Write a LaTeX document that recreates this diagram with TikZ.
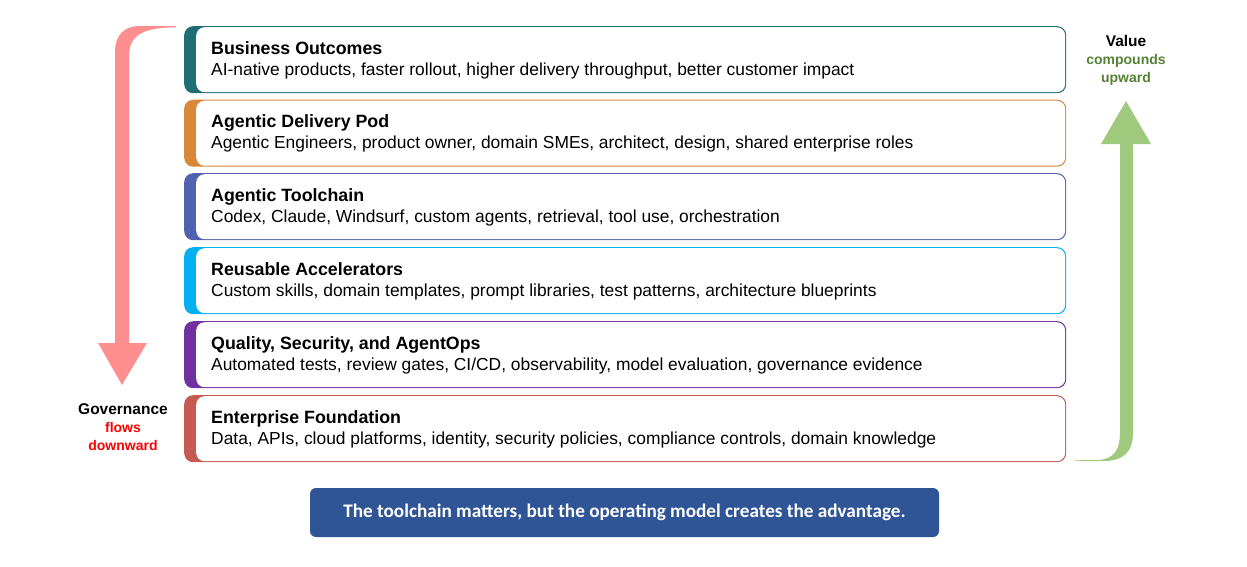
\documentclass[tikz,border=0pt]{standalone}
\usepackage{fontspec}
\setmainfont{Liberation Sans}
\newfontfamily\bannerfont{Carlito}
\definecolor{cteal}{HTML}{1F6E75}
\definecolor{corange}{HTML}{D9883A}
\definecolor{cblue}{HTML}{5162B0}
\definecolor{ccyan}{HTML}{00B0F0}
\definecolor{cpurple}{HTML}{7030A0}
\definecolor{cbrick}{HTML}{C55A50}
\definecolor{cbanner}{HTML}{2F5597}
\definecolor{cpink}{HTML}{FF8F8F}
\definecolor{cgreen}{HTML}{9FCA7E}
\definecolor{cdkgreen}{HTML}{548235}
\tikzset{
  outerbox/.style={rectangle, rounded corners=9pt, anchor=north west, minimum width=882pt, minimum height=67pt, inner sep=0pt},
  innerbox/.style={rectangle, rounded corners=8.5pt, anchor=north west, fill=white, minimum width=869pt, minimum height=65pt, inner sep=0pt},
  titletext/.style={anchor=base west, inner sep=0pt, font=\fontsize{17.8}{20}\selectfont\bfseries},
  desctext/.style={anchor=base west, inner sep=0pt, font=\fontsize{17.4}{20}\selectfont},
  sidelabel/.style={align=center, inner sep=0pt, font=\fontsize{15.5}{18}\selectfont\bfseries},
  sidesub/.style={align=center, inner sep=0pt, font=\fontsize{14}{18}\selectfont\bfseries},
}
\newcommand{\layerrow}[5]{%
  \node[outerbox, fill=#2] (#1o) at (184,#3) {};
  \node[innerbox] (#1i) at (196,#3+1) {};
  \node[titletext] (#1t) at (211,#3+28) {#4};
  \node[desctext] (#1d) at (211,#3+49) {#5};
}
\begin{document}
\begin{tikzpicture}[x=1pt,y=-1pt]
\useasboundingbox (0,0) rectangle (1247,566);
% pink arrow
\fill[cpink] (176,26) -- (140,26) .. controls (124,26) and (115,35) .. (115,52) -- (115,343) -- (98,343) -- (122,385) -- (147,343) -- (129,343) -- (129,57) .. controls (129,38) and (138,27.5) .. (176,27.3) -- cycle;
% green arrow
\fill[cgreen] (1126,101) -- (1151,144) -- (1133,144) -- (1133,432) .. controls (1133,452) and (1124,461) .. (1103,461) -- (1075,461) -- (1075,460.3) -- (1100,460) .. controls (1114,458) and (1120,450) .. (1120,432) -- (1120,144) -- (1101,144) -- cycle;
\layerrow{l1}{cteal}{26}{Business Outcomes}{AI-native products, faster rollout, higher delivery throughput, better customer impact}
\layerrow{l2}{corange}{99.5}{Agentic Delivery Pod}{Agentic Engineers, product owner, domain SMEs, architect, design, shared enterprise roles}
\layerrow{l3}{cblue}{173}{Agentic Toolchain}{Codex, Claude, Windsurf, custom agents, retrieval, tool use, orchestration}
\layerrow{l4}{ccyan}{247}{Reusable Accelerators}{Custom skills, domain templates, prompt libraries, test patterns, architecture blueprints}
\layerrow{l5}{cpurple}{321}{Quality, Security, and AgentOps}{Automated tests, review gates, CI/CD, observability, model evaluation, governance evidence}
\layerrow{l6}{cbrick}{395}{Enterprise Foundation}{Data, APIs, cloud platforms, identity, security policies, compliance controls, domain knowledge}
% labels
\node[sidelabel] (val) at (1126,41) {Value};
\node[sidesub, text=cdkgreen] (val2) at (1126,69.5) {compounds\\upward};
\node[sidelabel] (gov) at (123,409) {Governance};
\node[sidesub, text=red] (gov2) at (123,436) {flows\\downward};
% banner
\node[rectangle, rounded corners=6pt, fill=cbanner, minimum width=629pt, minimum height=49pt, text=white, font=\bannerfont\fontsize{19.2}{21}\selectfont\bfseries] (banner) at (624.5,512.5) {The toolchain matters, but the operating model creates the advantage.};
\end{tikzpicture}
\end{document}
